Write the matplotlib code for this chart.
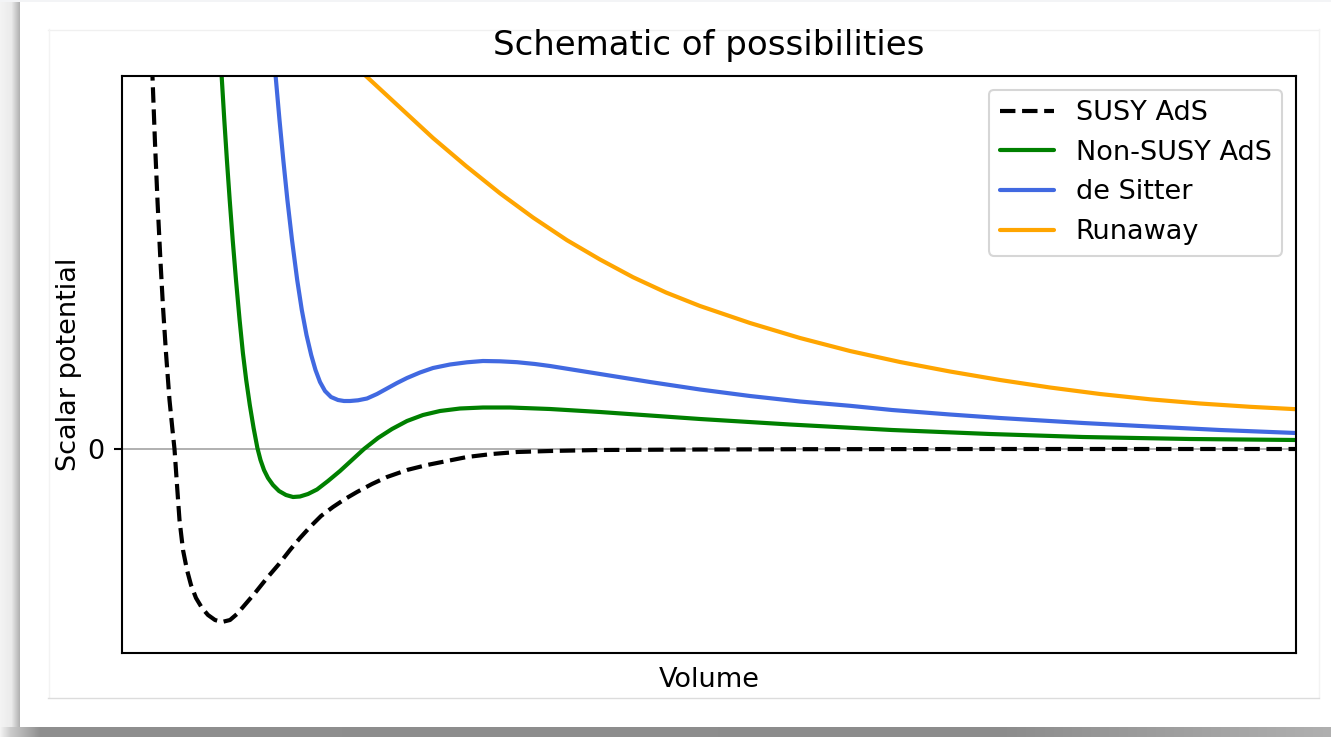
import matplotlib.pyplot as plt
import numpy as np
from matplotlib.patches import Rectangle

# Sampled potential curves (volume, V); axis units are arbitrary
susy_x = [0.27, 0.305, 0.33, 0.356, 0.384, 0.41, 0.44, 0.475, 0.505, 0.525, 0.55,
          0.575, 0.61, 0.65, 0.69, 0.74, 0.80, 0.86, 0.93, 1.00, 1.08, 1.15, 1.21,
          1.33, 1.45, 1.57, 1.68, 1.78, 1.88, 1.99, 2.11, 2.23, 2.35, 2.50, 2.65,
          2.85, 3.05, 3.25, 3.45, 3.70, 3.95, 4.28, 4.78, 5.78, 6.78, 8.78, 11.74]
susy_y = [4.69, 3.72, 3.06, 2.46, 1.89, 1.42, 0.96, 0.49, 0.19, 0.0, -0.36,
          -0.71, -1.01, -1.21, -1.36, -1.49, -1.59, -1.66, -1.71, -1.73, -1.71, -1.65, -1.58,
          -1.44, -1.29, -1.15, -1.01, -0.89, -0.78, -0.67, -0.58, -0.50, -0.43, -0.35, -0.28,
          -0.21, -0.16, -0.12, -0.08, -0.05, -0.03, -0.02, -0.01, -0.005, -0.002, 0.0, 0.0]

nonsusy_x = [0.945, 0.997, 1.023, 1.049, 1.077, 1.107, 1.14, 1.176, 1.209, 1.242, 1.278,
             1.316, 1.354, 1.385, 1.42, 1.46, 1.51, 1.57, 1.64, 1.71, 1.78, 1.86,
             1.95, 2.06, 2.18, 2.30, 2.42, 2.56, 2.70, 2.85, 3.01, 3.18, 3.38, 3.61,
             3.88, 4.28, 4.78, 5.28, 5.78, 6.68, 7.70, 8.68, 9.61, 10.68, 11.74]
nonsusy_y = [4.69, 3.72, 3.29, 2.89, 2.49, 2.09, 1.69, 1.29, 0.96, 0.69, 0.44,
             0.21, 0.01, -0.11, -0.21, -0.29, -0.36, -0.42, -0.46, -0.48, -0.475, -0.45,
             -0.405, -0.32, -0.22, -0.11, 0.0, 0.11, 0.20, 0.28, 0.34, 0.38, 0.405, 0.415,
             0.415, 0.40, 0.37, 0.335, 0.30, 0.245, 0.19, 0.15, 0.12, 0.10, 0.09]

desitter_x = [1.455, 1.537, 1.575, 1.613, 1.654, 1.70, 1.752, 1.798, 1.845, 1.892, 1.935,
              1.98, 2.03, 2.09, 2.16, 2.22, 2.28, 2.36, 2.45, 2.55, 2.65, 2.75, 2.85,
              2.98, 3.11, 3.28, 3.45, 3.61, 3.78, 3.95, 4.13, 4.28, 4.53, 4.78, 5.03,
              5.28, 5.78, 6.28, 6.78, 7.28, 7.70, 8.28, 8.78, 9.61, 10.28, 10.98, 11.74]
desitter_y = [4.69, 3.72, 3.29, 2.89, 2.49, 2.09, 1.69, 1.39, 1.14, 0.94, 0.79,
              0.67, 0.58, 0.52, 0.49, 0.48, 0.48, 0.487, 0.505, 0.55, 0.605, 0.66, 0.71,
              0.765, 0.81, 0.845, 0.867, 0.88, 0.877, 0.868, 0.85, 0.83, 0.79, 0.75, 0.71,
              0.67, 0.595, 0.53, 0.475, 0.432, 0.39, 0.345, 0.31, 0.26, 0.225, 0.19, 0.16]

runaway_x = [1.78, 2.12, 2.45, 2.78, 3.11, 3.44, 3.78, 4.11, 4.45, 4.78, 5.11,
             5.44, 5.78, 6.28, 6.78, 7.28, 7.78, 8.28, 8.78, 9.28, 9.78, 10.28,
             10.78, 11.28, 11.74]
runaway_y = [4.36, 4.03, 3.72, 3.415, 3.11, 2.83, 2.557, 2.315, 2.088, 1.895, 1.718,
             1.565, 1.43, 1.26, 1.11, 0.98, 0.87, 0.775, 0.69, 0.615, 0.55, 0.497,
             0.455, 0.422, 0.398]

labels = ["SUSY AdS", "Non-SUSY AdS", "de Sitter", "Runaway"]

W, H = 1331, 737
fig = plt.figure(figsize=(W / 100, H / 100), dpi=100, facecolor="#f3f4f6")

# card backdrop with drop shadow
bg = fig.add_axes([0, 0, 1, 1], zorder=0)
bg.axis("off")

xs = np.arange(W)
shade = np.interp(xs, [0, 10, 40, 1000, W], [0.95, 0.80, 0.56, 0.55, 0.69])
strip = np.repeat(shade[None, :, None], 3, axis=2)
bg.imshow(strip, extent=(0, W, H, 727), aspect="auto", interpolation="bilinear")

left = np.interp(np.arange(20), [0, 11, 19], [0.955, 0.92, 0.70])
lstrip = np.repeat(left[None, :, None], 3, axis=2)
bg.imshow(lstrip, extent=(0, 20, 727, 2), aspect="auto", interpolation="bilinear")

bg.add_patch(Rectangle((20, 2), W - 20, 725, facecolor="white", edgecolor="none"))
bg.plot([48, 1319], [29.5, 29.5], color="#f0f0f0", lw=1)
bg.plot([48.5, 48.5], [29, 697], color="#f3f3f3", lw=1)
bg.plot([1319, 1319], [29, 697], color="#f3f3f3", lw=1)
bg.plot([48, 1319], [697.5, 697.5], color="#dcdcdc", lw=1)
bg.set_xlim(0, W)
bg.set_ylim(H, 0)

ax = fig.add_axes([122 / W, 1 - 653 / H, (1296 - 122) / W, (653 - 76) / H], zorder=2)
ax.axhline(0, color="#b0b0b0", lw=1.4, zorder=1)

style = dict(lw=3.0, solid_joinstyle="round", solid_capstyle="round")
ax.plot(susy_x, susy_y, linestyle="--", color="black", dash_joinstyle="round",
        lw=3.0, label=labels[0])
ax.plot(nonsusy_x, nonsusy_y, color="green", label=labels[1], **style)
ax.plot(desitter_x, desitter_y, color="royalblue", label=labels[2], **style)
ax.plot(runaway_x, runaway_y, color="orange", label=labels[3], **style)

ax.set_xlim(0, 11.74)
ax.set_ylim(-2.04, 3.73)
ax.set_xticks([])
ax.set_yticks([0])
ax.tick_params(axis="y", labelsize=19.5, length=5.5, width=1.5, pad=7)
for sp in ax.spines.values():
    sp.set_linewidth(1.5)

ax.set_xlabel("Volume", fontsize=19.5, labelpad=10)
ax.set_ylabel("Scalar potential", fontsize=19.5)
ax.set_title("Schematic of possibilities", fontsize=24.5, pad=15)

leg = ax.legend(loc="upper right", fontsize=19.5)
leg.get_frame().set_linewidth(1.5)

fig.savefig("out.png", dpi=100, facecolor=fig.get_facecolor())
